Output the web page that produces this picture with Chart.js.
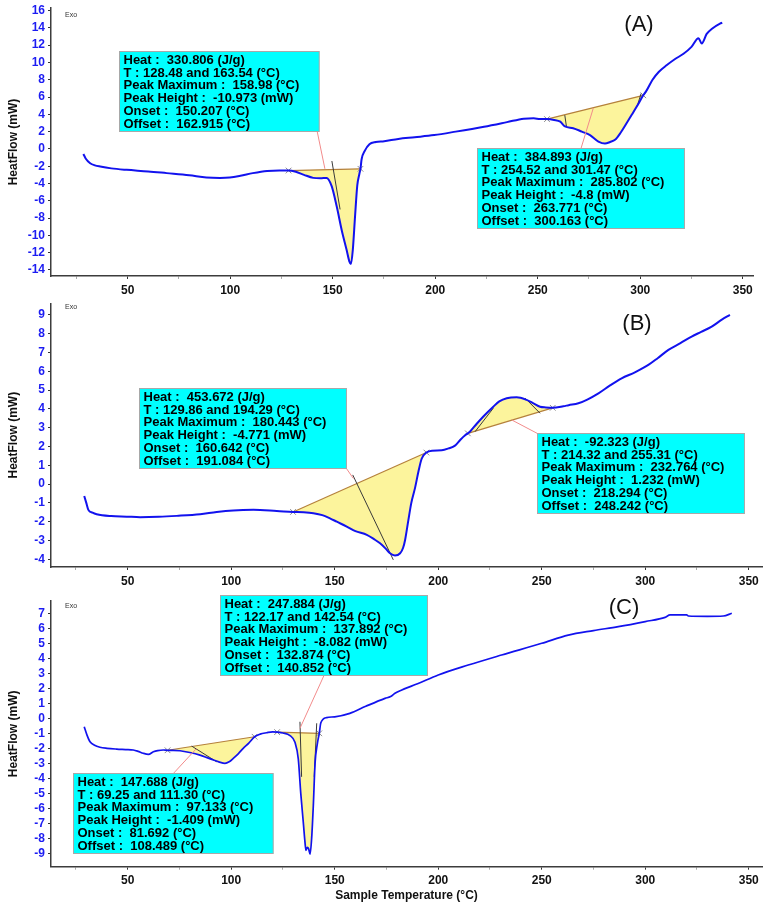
<!DOCTYPE html>
<html>
<head>
<meta charset="utf-8">
<script src="https://cdn.jsdelivr.net/npm/chart.js@4.4.0/dist/chart.umd.min.js"></script>
<style>
  html, body { margin: 0; padding: 0; background: #fff; }
  #wrap { position: relative; width: 770px; height: 906px; overflow: hidden; }
  canvas { position: absolute; left: 0; }
</style>
</head>
<body>
<div id="wrap">
  <canvas id="chartA" width="770" height="296" style="top:0px"></canvas>
  <canvas id="chartB" width="770" height="292" style="top:296px"></canvas>
  <canvas id="chartC" width="770" height="318" style="top:588px"></canvas>
</div>
<script>
// ---- tick labels ----
const xTicks = [25, 50, 75, 100, 125, 150, 175, 200, 225, 250, 275, 300, 325, 350];
const aYTicks = [-14, -12, -10, -8, -6, -4, -2, 0, 2, 4, 6, 8, 10, 12, 14, 16];
const bYTicks = [-4, -3, -2, -1, 0, 1, 2, 3, 4, 5, 6, 7, 8, 9];
const cYTicks = [-9, -8, -7, -6, -5, -4, -3, -2, -1, 0, 1, 2, 3, 4, 5, 6, 7];

// ---- (A) curve ----
const aTemp = [28.4, 29.5, 31.7, 34, 36.6, 42, 49.5, 60, 69, 80, 88.4, 95, 99.8, 105, 111, 118, 124, 128.48, 132, 136,
  140.5, 144, 147, 149.5, 152, 154.4, 156.8, 158.1, 158.9, 159.8, 160.9, 162, 163, 163.54, 164.1, 165.7, 167.9, 171, 175.1,
  182, 190, 199.5, 210, 223.8, 235, 243.2, 248, 251.2, 254.52, 258, 261, 263.3, 267.3, 271.5, 275.5, 279.6, 282.8, 285.3,
  287.7, 290.5, 293.4, 296, 298.3, 301.47, 303.2, 306, 309, 313, 317, 321.1, 325, 328.4, 330, 332.4, 335, 338.9, 340];
const aHeat = [-0.58, -1.1, -1.65, -1.9, -2.04, -2.25, -2.42, -2.6, -2.8, -3.05, -3.3, -3.35, -3.3, -3.1, -2.8, -2.55, -2.5, -2.5, -2.65, -3.0,
  -3.35, -3.4, -3.35, -4.3, -6.7, -9.4, -11.7, -13.0, -13.3, -11.7, -7.8, -4.2, -2.9, -2.3, -1.2, -0.2, 0.55, 0.8, 0.9,
  1.15, 1.35, 1.6, 2.0, 2.57, 3.1, 3.5, 3.55, 3.45, 3.45, 3.35, 3.15, 2.6, 2.4, 2.0, 1.6, 0.85, 0.62, 0.8,
  1.05, 1.9, 3.0, 4.0, 4.9, 6.2, 6.8, 8.0, 8.9, 9.7, 10.4, 11.0, 11.8, 12.8, 12.2, 13.3, 13.9, 14.5, 14.6];
const aPeak1T = [128.48, 163.54], aPeak1Base = [-2.5, -2.3];
const aPeak2T = [254.52, 301.47], aPeak2Base = [3.45, 6.2];
const aTan1T = [149.6, 153.6], aTan1V = [-1.4, -7.0];
const aTan2T = [263.2, 264.0], aTan2V = [3.9, 2.6];
const aTan3T = [300.4, 298.6], aTan3V = [6.4, 5.0];
const aNote1 = ['Heat :  330.806 (J/g)', 'T : 128.48 and 163.54 (°C)', 'Peak Maximum :  158.98 (°C)',
  'Peak Height :  -10.973 (mW)', 'Onset :  150.207 (°C)', 'Offset :  162.915 (°C)'];
const aNote2 = ['Heat :  384.893 (J/g)', 'T : 254.52 and 301.47 (°C)', 'Peak Maximum :  285.802 (°C)',
  'Peak Height :  -4.8 (mW)', 'Onset :  263.771 (°C)', 'Offset :  300.163 (°C)'];

// ---- (B) curve ----
const bTemp = [29, 30, 31, 33, 35, 42, 49.5, 56, 65, 73.7, 85, 93, 101, 110.7, 122, 129.86, 135, 139.7, 144, 147.7,
  151, 155.8, 160, 165.5, 169, 171.9, 174.5, 176.7, 179.1, 181.6, 183, 184, 185.6, 187, 188.8, 190.5, 192, 194.29, 197,
  201.7, 205, 208.1, 210.6, 213, 214.32, 215.4, 218.5, 221.8, 226.6, 229.5, 233.1, 237.9, 242.7, 246, 249.2, 252, 255.31,
  260.4, 263, 267.7, 272, 277.4, 283, 288.6, 295, 301.5, 306, 311.2, 317, 322.4, 327, 332.1, 337, 340.9];
const bHeat = [-0.63, -1.0, -1.37, -1.52, -1.6, -1.7, -1.73, -1.76, -1.74, -1.69, -1.6, -1.48, -1.4, -1.37, -1.43, -1.48, -1.5, -1.55, -1.65, -1.82,
  -2.0, -2.26, -2.5, -2.7, -2.93, -3.15, -3.42, -3.68, -3.8, -3.68, -3.4, -2.97, -1.9, -1.0, -0.2, 0.7, 1.35, 1.68, 1.78,
  1.8, 1.9, 2.05, 2.35, 2.6, 2.7, 2.8, 3.2, 3.6, 4.12, 4.4, 4.57, 4.62, 4.48, 4.3, 4.12, 4.08, 4.06,
  4.14, 4.2, 4.3, 4.5, 4.83, 5.25, 5.63, 5.95, 6.34, 6.7, 7.14, 7.5, 7.85, 8.1, 8.38, 8.75, 9.0];
const bPeak1T = [129.86, 194.29], bPeak1Base = [-1.48, 1.68];
const bPeak2T = [214.32, 255.31], bPeak2Base = [2.7, 4.06];
const bTan1T = [158.7, 178.3], bTan1V = [0.49, -4.03];
const bTan2T = [217.8, 226.6], bTan2V = [2.79, 4.04];
const bTan3T = [242, 249.2], bTan3V = [4.57, 3.77];
const bNote1 = ['Heat :  453.672 (J/g)', 'T : 129.86 and 194.29 (°C)', 'Peak Maximum :  180.443 (°C)',
  'Peak Height :  -4.771 (mW)', 'Onset :  160.642 (°C)', 'Offset :  191.084 (°C)'];
const bNote2 = ['Heat :  -92.323 (J/g)', 'T : 214.32 and 255.31 (°C)', 'Peak Maximum :  232.764 (°C)',
  'Peak Height :  1.232 (mW)', 'Onset :  218.294 (°C)', 'Offset :  248.242 (°C)'];

// ---- (C) curve ----
const cTemp = [29, 30.3, 31.8, 34, 36.6, 40, 44.7, 49, 52.7, 55, 57.5, 60, 62.4, 64.5, 67.2, 69.25, 72, 75.3, 80, 84.9,
  88, 91.4, 94, 97, 99, 101, 103.5, 105.8, 108.5, 111.3, 114, 117.1, 120, 122.17, 125, 128.4, 130.8, 132.4, 133.6, 134.8,
  135.6, 136.1, 136.8, 137.4, 138.1, 138.9, 139.7, 140.5, 141.6, 142.54, 143.3, 146.1, 150, 157.3, 165, 174.3, 177, 179.1,
  182.4, 190, 200, 214.5, 230.6, 250, 262.8, 275, 287, 300, 309.6, 312, 320, 320.8, 330, 337.7, 341.8];
const cHeat = [-0.56, -1.1, -1.56, -1.8, -1.93, -2.0, -2.05, -2.08, -2.11, -2.2, -2.33, -2.4, -2.23, -2.15, -2.11, -2.13, -2.13, -2.16, -2.28, -2.45,
  -2.6, -2.78, -2.9, -3.0, -2.9, -2.67, -2.35, -2.0, -1.65, -1.23, -1.05, -0.96, -0.9, -0.92, -0.98, -1.15, -1.6, -2.7, -5.0, -6.9,
  -8.2, -8.8, -8.6, -8.7, -9.05, -7.9, -5.7, -3.0, -1.7, -1.0, -0.3, 0.05, 0.1, 0.33, 0.8, 1.33, 1.45, 1.67,
  1.89, 2.3, 2.89, 3.55, 4.22, 5.0, 5.55, 5.85, 6.11, 6.45, 6.73, 6.89, 6.89, 6.82, 6.8, 6.82, 7.0];
const cPeak1T = [69.25, 111.3], cPeak1Base = [-2.13, -1.23];
const cPeak2T = [122.17, 142.54], cPeak2Base = [-0.92, -1.0];
const cTan1T = [80.9, 93], cTan1V = [-1.85, -2.9];
const cTan2T = [133.2, 134], cTan2V = [-0.23, -3.9];
const cTan3T = [141.3, 140.1], cTan3V = [-0.33, -3.9];
const cNote1 = ['Heat :  147.688 (J/g)', 'T : 69.25 and 111.30 (°C)', 'Peak Maximum :  97.133 (°C)',
  'Peak Height :  -1.409 (mW)', 'Onset :  81.692 (°C)', 'Offset :  108.489 (°C)'];
const cNote2 = ['Heat :  247.884 (J/g)', 'T : 122.17 and 142.54 (°C)', 'Peak Maximum :  137.892 (°C)',
  'Peak Height :  -8.082 (mW)', 'Onset :  132.874 (°C)', 'Offset :  140.852 (°C)'];

const FONT = '"Liberation Sans", Arial, sans-serif';
Chart.defaults.font.family = FONT;

const pts = (xs, ys) => xs.map((x, i) => ({ x: x, y: ys[i] }));

const DscUtils = {
  // plugin drawing the cyan result boxes, leader lines and panel letters
  notesPlugin(panel) {
    return {
      id: 'dscNotes',
      afterDraw(chart) {
        const { ctx, chartArea } = chart;
        const sx = chart.scales.x, sy = chart.scales.y;
        ctx.save();
        ctx.font = 'bold 13px ' + FONT;
        panel.notes.forEach((n) => {
          const w = Math.max(...n.lines.map((t) => ctx.measureText(t).width)) + 24;
          const h = 80;
          const left = Math.round(sx.getPixelForValue(n.at[0])) + 0.5;
          const top = Math.round(sy.getPixelForValue(n.at[1])) + 0.5;
          // leader line
          ctx.strokeStyle = '#f28b8b';
          ctx.lineWidth = 1;
          ctx.beginPath();
          ctx.moveTo(left + w * n.from[0], top + h * n.from[1]);
          ctx.lineTo(sx.getPixelForValue(n.to[0]), sy.getPixelForValue(n.to[1]));
          ctx.stroke();
          // box
          ctx.fillStyle = '#00ffff';
          ctx.fillRect(left, top, w, h);
          ctx.strokeStyle = '#a8a8a8';
          ctx.strokeRect(left, top, w, h);
          ctx.fillStyle = '#000';
          ctx.textAlign = 'left';
          ctx.textBaseline = 'middle';
          n.lines.forEach((t, i) => ctx.fillText(t, left + 4, top + 8.8 + i * 12.8));
        });
        // panel letter
        ctx.font = '22px ' + FONT;
        ctx.fillStyle = '#111';
        ctx.textAlign = 'center';
        ctx.fillText(panel.letter, panel.letterPos[0], panel.letterPos[1]);
        // Exo mark
        ctx.font = '7px ' + FONT;
        ctx.fillStyle = '#333';
        ctx.textAlign = 'left';
        ctx.fillText('Exo', chartArea.left + 14, chartArea.top + panel.exoDy);
        ctx.restore();
      },
    };
  },

  renderPanel(canvasId, panel) {
    const canvas = document.getElementById(canvasId);
    if (!canvas) {
      console.error(`Canvas '${canvasId}' not found`);
      return;
    }
    const curve = pts(panel.temp, panel.heat);
    const datasets = [
      {
        data: curve,
        borderColor: '#1212ee',
        borderWidth: panel.lineW,
        pointRadius: 0,
        cubicInterpolationMode: 'monotone',
        fill: false,
      },
    ];
    // onset / offset tangents
    panel.tangents.forEach((tn) => {
      datasets.push({
        data: pts(tn[0], tn[1]),
        borderColor: '#3a3a3a',
        borderWidth: 1,
        pointRadius: 0,
        fill: false,
      });
    });
    // small crosses at the integration limits
    const marks = [];
    panel.peaks.forEach((pk) => marks.push(...pts(pk[0], pk[1])));
    datasets.push({
      data: marks,
      showLine: false,
      pointStyle: 'crossRot',
      pointRadius: 4,
      borderColor: '#8c8c8c',
      borderWidth: 1,
    });
    // baselines + yellow peak areas
    panel.peaks.forEach((pk) => {
      const baseIdx = datasets.length;
      datasets.push({
        data: pts(pk[0], pk[1]),
        borderColor: '#b5813c',
        borderWidth: 1.2,
        pointRadius: 0,
        fill: false,
      });
      datasets.push({
        data: curve.filter((p) => p.x >= pk[0][0] && p.x <= pk[0][1]),
        borderColor: 'rgba(0,0,0,0)',
        borderWidth: 0,
        pointRadius: 0,
        cubicInterpolationMode: 'monotone',
        backgroundColor: '#fcf49c',
        fill: { target: baseIdx },
      });
    });

    if (canvas.dscChart) canvas.dscChart.destroy();
    canvas.dscChart = new Chart(canvas.getContext('2d'), {
      type: 'line',
      data: { datasets },
      options: {
        responsive: false,
        animation: false,
        layout: { padding: { left: 0, right: panel.padR, top: panel.padT, bottom: 0 } },
        plugins: { legend: { display: false }, tooltip: { enabled: false } },
        scales: {
          x: {
            type: 'linear',
            min: panel.xMin,
            max: panel.xMax,
            afterBuildTicks: (s) => { s.ticks = xTicks.map((v) => ({ value: v })); },
            afterFit: (s) => { s.height = panel.xAxisH; s.paddingLeft = 0; s.paddingRight = 0; },
            grid: {
              display: true,
              drawOnChartArea: false,
              tickLength: 3,
              tickColor: (c) => (c.tick && c.tick.value % 50 === 0 ? '#333' : '#aaa'),
            },
            border: { display: true, color: '#3c3c3c', width: 1.5 },
            ticks: {
              autoSkip: false,
              maxRotation: 0,
              padding: 4,
              color: '#111',
              font: { size: 12, weight: 'bold' },
              callback: (v) => (v % 50 === 0 ? String(v) : ''),
            },
            title: {
              display: !!panel.xTitle,
              text: panel.xTitle || '',
              color: '#111',
              font: { size: 12, weight: 'bold' },
              padding: { top: 0, bottom: 3 },
            },
          },
          y: {
            min: panel.yMin,
            max: panel.yMax,
            afterBuildTicks: (s) => { s.ticks = panel.yTicks.map((v) => ({ value: v })); },
            afterFit: (s) => { s.width = 51; s.paddingTop = 0; s.paddingBottom = 0; },
            grid: { display: true, drawOnChartArea: false, tickLength: 3, tickColor: '#333' },
            border: { display: true, color: '#3c3c3c', width: 1.5 },
            ticks: { autoSkip: false, padding: 3, color: '#1c1cf2', font: { size: 12, weight: 'bold' } },
            title: {
              display: true,
              text: 'HeatFlow (mW)',
              color: '#111',
              font: { size: 12, weight: 'bold' },
              padding: { top: 6, bottom: 0 },
            },
          },
        },
      },
      plugins: [DscUtils.notesPlugin(panel)],
    });
  },
};

DscUtils.renderPanel('chartA', {
  temp: aTemp, heat: aHeat, yTicks: aYTicks,
  peaks: [[aPeak1T, aPeak1Base], [aPeak2T, aPeak2Base]],
  tangents: [[aTan1T, aTan1V], [aTan2T, aTan2V], [aTan3T, aTan3V]],
  notes: [
    { lines: aNote1, at: [45.8, 11.34], from: [0.99, 1], to: [146.2, -2.3] },
    { lines: aNote2, at: [220.2, 0.08], from: [0.5, 0], to: [277.1, 4.71] },
  ],
  xMin: 12.6, xMax: 355, yMin: -14.7, yMax: 16.3,
  padT: 8, padR: 17, xAxisH: 20, lineW: 2,
  letter: '(A)', letterPos: [639, 25], exoDy: 7,
});

DscUtils.renderPanel('chartB', {
  temp: bTemp, heat: bHeat, yTicks: bYTicks,
  peaks: [[bPeak1T, bPeak1Base], [bPeak2T, bPeak2Base]],
  tangents: [[bTan1T, bTan1V], [bTan2T, bTan2V], [bTan3T, bTan3V]],
  notes: [
    { lines: bNote1, at: [55.6, 5.1], from: [1, 1], to: [159, 0.3] },
    { lines: bNote2, at: [247.6, 2.71], from: [0, 0], to: [235.4, 3.42] },
  ],
  xMin: 12.95, xMax: 356.4, yMin: -4.41, yMax: 9.62,
  padT: 7.3, padR: 8, xAxisH: 21, lineW: 2,
  letter: '(B)', letterPos: [637, 28], exoDy: 4,
});

DscUtils.renderPanel('chartC', {
  temp: cTemp, heat: cHeat, yTicks: cYTicks,
  peaks: [[cPeak1T, cPeak1Base], [cPeak2T, cPeak2Base]],
  tangents: [[cTan1T, cTan1V], [cTan2T, cTan2V], [cTan3T, cTan3V]],
  notes: [
    { lines: cNote2, at: [94.6, 8.22], from: [0.5, 1], to: [133.2, -0.67] },
    { lines: cNote1, at: [23.7, -3.67], from: [0.5, 0], to: [83.3, -2.0] },
  ],
  xMin: 12.95, xMax: 356.4, yMin: -9.89, yMax: 7.82,
  padT: 13, padR: 8, xAxisH: 39.3, lineW: 1.7,
  letter: '(C)', letterPos: [624, 20], exoDy: 5,
  xTitle: 'Sample Temperature (°C)',
});
</script>
</body>
</html>
